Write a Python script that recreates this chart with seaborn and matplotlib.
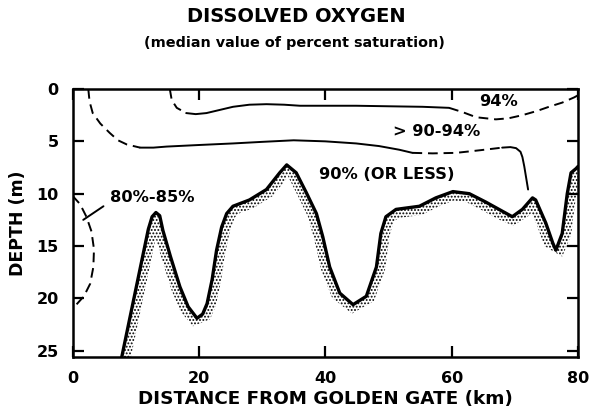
import numpy as np
import matplotlib
matplotlib.use("Agg")
import matplotlib.pyplot as plt
import seaborn as sns
from matplotlib.patches import Polygon

# Channel bottom profile: distance from Golden Gate (km) and depth (m)
bottom_km = [7.8, 9.0, 10.0, 11.0, 12.0, 12.6, 13.2, 13.8, 14.3, 15.5, 17.0, 18.3,
             19.7, 20.6, 21.3, 22.1, 22.8, 23.6, 24.4, 25.4, 28.0, 30.7, 32.8, 33.9,
             35.4, 37.0, 38.6, 39.6, 40.7, 42.3, 44.4, 46.5, 48.1, 48.8, 49.6, 51.2,
             54.9, 57.5, 60.2, 62.8, 65.4, 68.1, 69.6, 71.2, 72.8, 73.3, 74.9, 76.0,
             76.5, 77.5, 78.3, 78.9, 79.7, 80.0]
bottom_depth = [25.6, 22.1, 19.2, 16.3, 13.4, 12.2, 11.8, 12.1, 13.5, 16.0, 18.9, 20.8,
                21.9, 21.5, 20.5, 18.2, 15.4, 13.2, 11.9, 11.2, 10.6, 9.6, 8.0, 7.25,
                8.0, 9.9, 11.9, 14.1, 17.0, 19.5, 20.6, 19.8, 17.0, 13.8, 12.2, 11.5,
                11.2, 10.4, 9.8, 10.0, 10.8, 11.7, 12.2, 11.5, 10.4, 10.6, 12.8, 14.7,
                15.4, 13.8, 10.0, 8.0, 7.6, 7.4]

# 94% isopleth (dashed where inferred)
iso94_west_km = [15.4, 15.7, 16.5, 18.0]
iso94_west_depth = [0.0, 1.05, 1.8, 2.3]
iso94_mid_km = [18.0, 19.5, 21.2, 23.3, 25.4, 28.0, 30.7, 33.5, 36.0, 40.0, 44.9,
                50.0, 55.4, 59.6]
iso94_mid_depth = [2.3, 2.4, 2.3, 2.0, 1.7, 1.5, 1.45, 1.5, 1.6, 1.6, 1.6,
                   1.65, 1.7, 1.8]
iso94_east_km = [59.6, 61.7, 63.9, 67.0, 69.0, 71.2, 73.5, 75.4, 77.5, 79.4, 80.0]
iso94_east_depth = [1.8, 2.2, 2.7, 2.9, 2.8, 2.5, 2.1, 1.7, 1.3, 0.8, 0.6]

# 90% isopleth
iso90_west_km = [2.5, 2.7, 3.2, 4.4, 5.9, 7.2, 8.6, 10.7]
iso90_west_depth = [0.0, 1.2, 2.3, 3.3, 4.2, 4.9, 5.3, 5.6]
iso90_mid_km = [10.7, 12.8, 14.9, 20.0, 25.4, 30.0, 35.0, 40.0, 44.9, 48.5, 51.7, 53.8]
iso90_mid_depth = [5.6, 5.6, 5.5, 5.35, 5.2, 5.05, 4.9, 5.0, 5.2, 5.45, 5.8, 6.1]
iso90_gap_km = [53.8, 57.0, 60.7, 64.5, 68.0]
iso90_gap_depth = [6.1, 6.15, 6.1, 5.85, 5.6]
iso90_east_km = [68.0, 69.3, 70.2, 70.9, 71.2, 71.5, 71.8, 72.1]
iso90_east_depth = [5.6, 5.55, 5.65, 6.0, 6.5, 7.4, 8.5, 9.6]

# 80%-85% pocket near the Golden Gate
iso85_km = [0.0, 1.2, 2.2, 3.0, 3.4, 3.3, 2.8, 1.8, 0.6, 0.0]
iso85_depth = [10.2, 11.0, 12.2, 13.6, 15.3, 17.0, 18.6, 19.8, 20.6, 20.9]
leader_km = [1.7, 4.9]
leader_depth = [12.5, 11.2]

# Zone labels
zone_labels = ["94%", "> 90-94%", "90% (OR LESS)", "80%-85%"]
zone_km = [67.4, 57.7, 49.7, 12.6]
zone_depth = [1.2, 4.1, 8.2, 10.4]

x_ticks = [0, 20, 40, 60, 80]
y_ticks = [0, 5, 10, 15, 20, 25]

sns.set_theme(style="ticks")
plt.rcParams["font.family"] = ["DejaVu Sans"]
plt.rcParams["font.weight"] = "bold"
plt.rcParams["text.color"] = "black"
plt.rcParams["axes.labelcolor"] = "black"
plt.rcParams["hatch.linewidth"] = 0.9

fig = plt.figure(figsize=(5.89, 4.15), dpi=100)
ax = fig.add_axes([72.5 / 589, 1 - 357 / 415, (578 - 72.5) / 589, (357 - 89) / 415])
ax.set_xlim(0, 80)
ax.set_ylim(25.6, 0)

dash = (0, (5, 3))
lw_c = 1.4

def draw(xs, ys, style="-", lw=lw_c):
    sns.lineplot(x=xs, y=ys, sort=False, estimator=None, color="black",
                 linewidth=lw, linestyle=style, ax=ax)

# stippled band beneath the bottom profile
pts = ax.transData.transform(np.column_stack([bottom_km, bottom_depth]))
tang = np.gradient(pts, axis=0)
tang /= np.linalg.norm(tang, axis=1, keepdims=True)
normal = np.column_stack([tang[:, 1], -tang[:, 0]])
inner = pts + normal * 9.0
poly_disp = np.vstack([pts, inner[::-1]])
poly_data = ax.transData.inverted().transform(poly_disp)
ax.add_patch(Polygon(poly_data, closed=True, facecolor="none", edgecolor="black",
                     linewidth=0, hatch=".....", zorder=1))

draw(bottom_km, bottom_depth, "-", lw=2.4)

draw(iso94_west_km, iso94_west_depth, dash)
draw(iso94_mid_km, iso94_mid_depth, "-")
draw(iso94_east_km, iso94_east_depth, dash)

draw(iso90_west_km, iso90_west_depth, dash)
draw(iso90_mid_km, iso90_mid_depth, "-")
draw(iso90_gap_km, iso90_gap_depth, dash)
draw(iso90_east_km, iso90_east_depth, "-")

draw(iso85_km, iso85_depth, dash)
draw(leader_km, leader_depth, "-")

for txt, xk, yd in zip(zone_labels, zone_km, zone_depth):
    ax.text(xk, yd, txt, ha="center", va="center", fontsize=11.7, fontweight="bold",
            color="black")

ax.set_xticks(x_ticks)
ax.set_yticks(y_ticks)
ax.tick_params(axis="both", direction="in", length=8, width=1.6, top=True, right=True,
               labelsize=11.5, pad=10, colors="black")
for lab in ax.get_xticklabels() + ax.get_yticklabels():
    lab.set_fontweight("bold")
for sp in ax.spines.values():
    sp.set_visible(True)
    sp.set_linewidth(1.8)
    sp.set_color("black")

ax.set_xlabel("DISTANCE FROM GOLDEN GATE (km)", fontsize=13.2, fontweight="bold",
              labelpad=3)
ax.set_ylabel("DEPTH (m)", fontsize=12.5, fontweight="bold", labelpad=7)

fig.text(296 / 589, 1 - 16 / 415, "DISSOLVED OXYGEN", ha="center", va="center",
         fontsize=14, fontweight="bold")
fig.text(294 / 589, 1 - 43 / 415, "(median value of percent saturation)", ha="center",
         va="center", fontsize=10.4, fontweight="bold")

fig.savefig("out.png", dpi=100, facecolor="white")
